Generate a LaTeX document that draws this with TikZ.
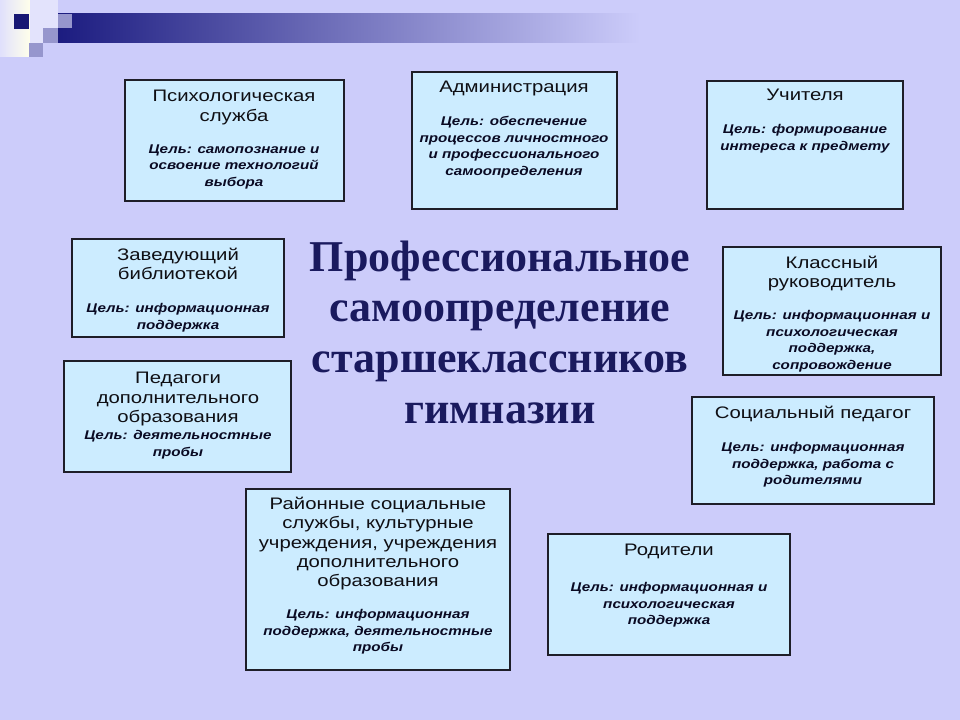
\documentclass[tikz,border=0pt]{standalone}
\usepackage{fontspec}
\setmainfont{Liberation Serif}
\setsansfont{Liberation Sans}
\newfontfamily\headfont[FakeStretch=1.22]{Liberation Sans}
\newfontfamily\goalfont[FakeStretch=1.2]{Liberation Sans}
\usetikzlibrary{positioning}

\definecolor{bgLav}{RGB}{204,204,250}
\definecolor{boxBlue}{RGB}{204,236,255}
\definecolor{titleNavy}{RGB}{26,26,94}
\definecolor{barNavy}{RGB}{28,28,128}
\definecolor{sqGray}{RGB}{150,150,205}

\tikzset{every picture/.style={line width=0.75pt}}
\tikzset{
  goalbox/.style={draw={rgb, 255:red, 30; green, 30; blue, 40}, fill=boxBlue, line width=1pt},
  headtxt/.style={font=\headfont\fontsize{12.5}{14.3}\selectfont, text={rgb, 255:red, 15; green, 15; blue, 20}, align=center, anchor=north, inner sep=0.75pt},
  goaltxt/.style={font=\goalfont\bfseries\itshape\fontsize{9.5}{12.4}\selectfont, text={rgb, 255:red, 10; green, 10; blue, 35}, align=center, anchor=north, inner sep=0.75pt}
}

\begin{document}
\begin{tikzpicture}[x=0.75pt,y=0.75pt,yscale=-1,xscale=1]
\useasboundingbox (0,0) rectangle (960,720);
%Background
\fill [bgLav] (0,0) rectangle (960,720);

%Corner squares and bar
\shade [left color=bgLav!60!white, right color=white!92!yellow] (0,0) rectangle (30,57);
\fill [bgLav!55!white] (30,0) rectangle (58,43);
\shade [left color=barNavy, right color=bgLav] (58,14) rectangle (640,43);
\fill [barNavy!90!black] (14,14) rectangle (29,29);
\fill [sqGray] (58,14) rectangle (72,28);
\fill [sqGray] (43,28) rectangle (58,43);
\fill [sqGray] (29,43) rectangle (43,57);

%Title
\node [font=\bfseries\fontsize{33}{38}\selectfont, text=titleNavy, align=center, inner sep=0pt] (title) at (500,332) {Профессиональное\\самоопределение\\старшеклассников\\гимназии};

%Shape: Rectangle [psychology]
\draw [goalbox] (125,80) rectangle (344,201);
% Text Node
\node [headtxt] (psyHead) at (234,89) {Психологическая\\служба};
% Text Node
\node [goaltxt] (psyGoal) at (234,143) {Цель: самопознание и\\освоение технологий\\выбора};

%Shape: Rectangle [administration]
\draw [goalbox] (412,72) rectangle (617,209);
% Text Node
\node [headtxt] (admHead) at (514,80) {Администрация};
% Text Node
\node [goaltxt] (admGoal) at (514,115) {Цель: обеспечение\\процессов личностного\\и профессионального\\самоопределения};

%Shape: Rectangle [teachers]
\draw [goalbox] (707,81) rectangle (903,209);
% Text Node
\node [headtxt] (teachHead) at (805,88) {Учителя};
% Text Node
\node [goaltxt] (teachGoal) at (805,123) {Цель: формирование\\интереса к предмету};

%Shape: Rectangle [library]
\draw [goalbox] (72,239) rectangle (284,337);
% Text Node
\node [headtxt] (libHead) at (178,247) {Заведующий\\библиотекой};
% Text Node
\node [goaltxt] (libGoal) at (178,302) {Цель: информационная\\поддержка};

%Shape: Rectangle [extra education]
\draw [goalbox] (64,361) rectangle (291,472);
% Text Node
\node [headtxt] (pedHead) at (178,371) {Педагоги\\дополнительного\\образования};
% Text Node
\node [goaltxt] (pedGoal) at (178,429) {Цель: деятельностные\\пробы};

%Shape: Rectangle [class teacher]
\draw [goalbox] (723,247) rectangle (941,375);
% Text Node
\node [headtxt] (klassHead) at (832,255) {Классный\\руководитель};
% Text Node
\node [goaltxt] (klassGoal) at (832,309) {Цель: информационная и\\психологическая\\поддержка,\\сопровождение};

%Shape: Rectangle [social pedagogue]
\draw [goalbox] (692,397) rectangle (934,504);
% Text Node
\node [headtxt] (socHead) at (813,405) {Социальный педагог};
% Text Node
\node [goaltxt] (socGoal) at (813,441) {Цель: информационная\\поддержка, работа с\\родителями};

%Shape: Rectangle [district services]
\draw [goalbox] (246,489) rectangle (510,670);
% Text Node
\node [headtxt] (rayonHead) at (378,496) {Районные социальные\\службы, культурные\\учреждения, учреждения\\дополнительного\\образования};
% Text Node
\node [goaltxt] (rayonGoal) at (378,608) {Цель: информационная\\поддержка, деятельностные\\пробы};

%Shape: Rectangle [parents]
\draw [goalbox] (548,534) rectangle (790,655);
% Text Node
\node [headtxt] (parHead) at (669,543) {Родители};
% Text Node
\node [goaltxt] (parGoal) at (669,581) {Цель: информационная и\\психологическая\\поддержка};

\end{tikzpicture}
\end{document}
